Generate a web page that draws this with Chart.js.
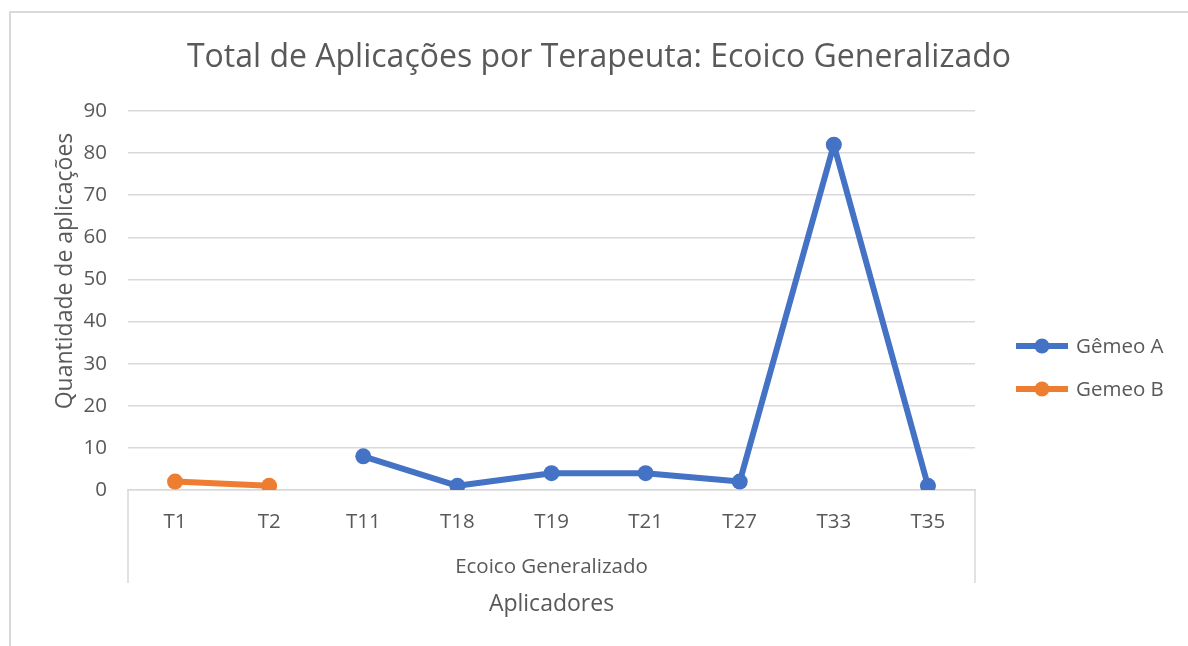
<!DOCTYPE html>
<html>
<head>
<meta charset="utf-8">
<script src="https://cdn.jsdelivr.net/npm/chart.js@4"></script>
<style>
  html, body { margin: 0; padding: 0; background: #ffffff; }
  #wrap { position: absolute; left: 0; top: 0; width: 1188px; height: 646px; overflow: hidden; }
  #frame { position: absolute; left: 9px; top: 11px; width: 1300px; height: 800px; border-left: 2px solid #D9D9D9; border-top: 2px solid #D9D9D9; }
  canvas { position: absolute; left: 0; top: 0; }
</style>
</head>
<body>
<div id="wrap">
  <div id="frame"></div>
  <canvas id="c" width="1188" height="646"></canvas>
</div>
<script>
const chartTitle = 'Total de Aplicações por Terapeuta: Ecoico Generalizado';
const categories = ['T1', 'T2', 'T11', 'T18', 'T19', 'T21', 'T27', 'T33', 'T35'];
const groupLabel = 'Ecoico Generalizado';
const seriesNames = ['Gêmeo A', 'Gemeo B'];
const gemeoA = [null, null, 8, 1, 4, 4, 2, 82, 1];
const gemeoB = [2, 1, null, null, null, null, null, null, null];
const yTitle = 'Quantidade de aplicações';
const xTitle = 'Aplicadores';

const FONT = "'Open Sans', 'Noto Sans', sans-serif";
const TEXT = '#595959';
const GRID = '#D9D9D9';
const colors = ['#4472C4', '#ED7D31'];
const SMALL = 20.5;
const MID = 23;

const extras = {
  id: 'extras',
  afterDraw(chart) {
    const ctx = chart.ctx;
    const area = chart.chartArea;
    ctx.save();
    // chart title
    ctx.fillStyle = TEXT;
    ctx.font = '32px ' + FONT;
    ctx.textAlign = 'center';
    ctx.textBaseline = 'middle';
    ctx.fillText(chartTitle, 599, 58);
    // group separators of the category axis
    ctx.strokeStyle = GRID;
    ctx.lineWidth = 1.5;
    [area.left, area.right].forEach(px => {
      ctx.beginPath();
      ctx.moveTo(px, area.bottom);
      ctx.lineTo(px, area.bottom + 93);
      ctx.stroke();
    });
    // group label
    ctx.font = SMALL + 'px ' + FONT;
    ctx.fillText(groupLabel, (area.left + area.right) / 2, area.bottom + 77);
    // y title
    ctx.save();
    ctx.translate(65, 271);
    ctx.rotate(-Math.PI / 2);
    ctx.font = MID + 'px ' + FONT;
    ctx.fillText(yTitle, 0, 0);
    ctx.restore();
    // legend
    chart.data.datasets.forEach((ds, i) => {
      const cy = 346 + i * 43;
      ctx.strokeStyle = ds.borderColor;
      ctx.lineWidth = 6;
      ctx.beginPath();
      ctx.moveTo(1016, cy);
      ctx.lineTo(1068, cy);
      ctx.stroke();
      ctx.fillStyle = ds.backgroundColor;
      ctx.beginPath();
      ctx.arc(1042, cy, 7.5, 0, Math.PI * 2);
      ctx.fill();
      ctx.fillStyle = TEXT;
      ctx.font = SMALL + 'px ' + FONT;
      ctx.textAlign = 'left';
      ctx.fillText(ds.label, 1076, cy + 1);
    });
    ctx.restore();
  }
};

new Chart(document.getElementById('c'), {
  type: 'line',
  data: {
    labels: categories,
    datasets: [
      { label: seriesNames[0], data: gemeoA, borderColor: colors[0], backgroundColor: colors[0],
        borderWidth: 6, borderJoinStyle: 'round', borderCapStyle: 'round',
        pointRadius: 8, pointBorderWidth: 0, pointHoverRadius: 8, spanGaps: false, tension: 0 },
      { label: seriesNames[1], data: gemeoB, borderColor: colors[1], backgroundColor: colors[1],
        borderWidth: 6, borderJoinStyle: 'round', borderCapStyle: 'round',
        pointRadius: 8, pointBorderWidth: 0, pointHoverRadius: 8, spanGaps: false, tension: 0 }
    ]
  },
  options: {
    responsive: false,
    animation: false,
    layout: { padding: { left: 10, right: 213, top: 111, bottom: 0 } },
    plugins: {
      legend: { display: false },
      tooltip: { enabled: false },
      title: { display: false }
    },
    scales: {
      x: {
        offset: true,
        grid: { display: false, drawTicks: false },
        border: { display: true, color: GRID, width: 1.5 },
        ticks: { color: TEXT, font: { family: FONT, size: SMALL }, padding: 20, maxRotation: 0, autoSkip: false },
        title: { display: true, text: xTitle, color: TEXT, font: { family: FONT, size: MID, lineHeight: 1.2 }, padding: { top: 0, bottom: 28 } },
        afterFit(s) { s.height = 156; }
      },
      y: {
        min: 0, max: 90,
        grid: { color: GRID, lineWidth: 1.5, drawTicks: false },
        border: { display: false },
        ticks: { stepSize: 10, color: TEXT, font: { family: FONT, size: SMALL }, padding: 21 },
        afterFit(s) { s.width = 118; }
      }
    }
  },
  plugins: [extras]
});
</script>
</body>
</html>
